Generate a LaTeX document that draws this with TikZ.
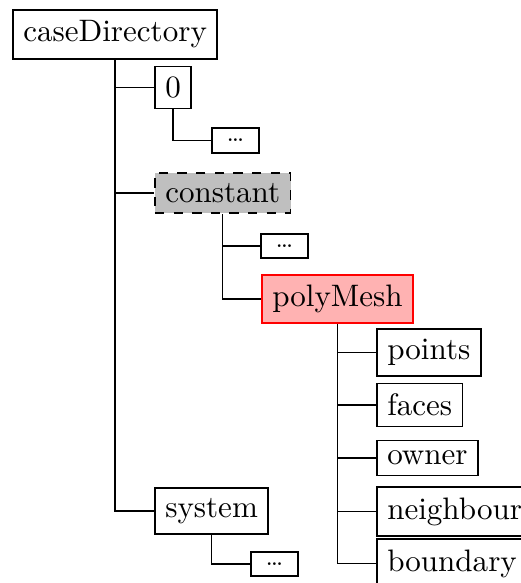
\documentclass[tikz,border=0pt]{standalone}
\begin{document}
\begin{tikzpicture}[x=0.322pt, y=-0.322pt,
  dirbox/.style={draw, semithick, anchor=west, font=\fontsize{10}{12}\selectfont},
  dotbox/.style={dirbox, font=\footnotesize, minimum width=15.1pt, minimum height=8pt, inner sep=0pt},
  greybox/.style={dirbox, dashed, fill=black!25},
  redbox/.style={dirbox, draw=red, fill=red!30},
  link/.style={draw, line width=0.4pt}]
  \path[use as bounding box, clip] (0,0) rectangle (521,583);

  % directory entries
  \node[dirbox]  (root)   at (12,34.5)  {caseDirectory};
  \node[dirbox]  (zero)   at (154,87.5) {0};
  \node[dotbox]  (zdots)  at (211,140.5) {\dots};
  \node[greybox] (const)  at (154,193)  {constant};
  \node[dotbox]  (cdots)  at (260,246)  {\dots};
  \node[redbox]  (poly)   at (261,299)  {polyMesh};
  \node[dirbox]  (points) at (376,352.5) {points};
  \node[dirbox]  (faces)  at (376,405)  {faces};
  \node[dirbox]  (owner)  at (376,458)  {owner};
  \node[dirbox]  (neigh)  at (376,511.5) {neighbour};
  \node[dirbox]  (bound)  at (376,563.5) {boundary};
  \node[dirbox]  (system) at (154,511)  {system};
  \node[dotbox]  (sdots)  at (250,564)  {\dots};

  % tree connectors
  \foreach \c in {zero,const,system} \path[link] (root.south) |- (\c.west);
  \path[link] (zero.south) |- (zdots.west);
  \foreach \c in {cdots,poly} \path[link] (const.south) |- (\c.west);
  \foreach \c in {points,faces,owner,neigh,bound} \path[link] (poly.south) |- (\c.west);
  \path[link] (system.south) |- (sdots.west);
\end{tikzpicture}
\end{document}
